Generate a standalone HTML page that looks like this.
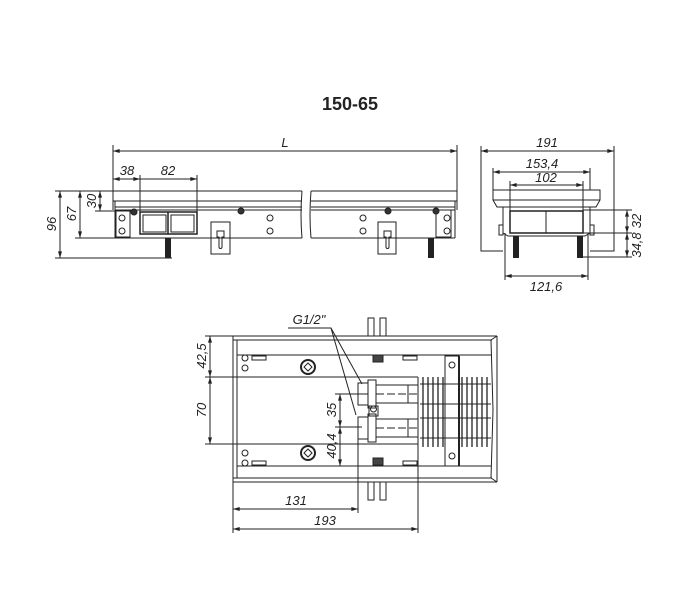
<!DOCTYPE html>
<html><head><meta charset="utf-8"><style>
html,body{margin:0;padding:0;background:#fff;width:700px;height:600px;overflow:hidden}
svg{display:block}
text{font-family:"Liberation Sans",sans-serif;fill:#222}
.d{font-style:italic;font-size:13px}
</style></head><body>
<svg width="700" height="600" viewBox="0 0 700 600" xmlns="http://www.w3.org/2000/svg">
<defs>
<marker id="a" viewBox="0 0 10 6" refX="10" refY="3" markerWidth="8" markerHeight="4" orient="auto-start-reverse"><path d="M0,0L10,3L0,6z" fill="#222"/></marker>
</defs>
<text x="350" y="110" text-anchor="middle" font-size="18" font-weight="bold" style="font-family:'Liberation Sans',sans-serif">150-65</text>

<g stroke="#222" fill="none" stroke-width="1">
<line x1="113" y1="151" x2="457" y2="151" marker-start="url(#a)" marker-end="url(#a)"/>
<line x1="113" y1="145" x2="113" y2="210"/><line x1="457" y1="145" x2="457" y2="210"/>
<line x1="113" y1="179" x2="197" y2="179" marker-start="url(#a)" marker-end="url(#a)"/>
<line x1="140" y1="175" x2="140" y2="212"/><line x1="197" y1="175" x2="197" y2="212"/>
<line x1="126" y1="179" x2="140" y2="179" marker-end="url(#a)"/>
<path d="M113,191H302M311,191H457M113,201H302M311,201H457M115,207H302M311,207H455M115,210H302M311,210H455M115,238H302M311,238H455"/>
<path d="M302,191Q300,215 302,238M311,191Q309,215 311,238"/>
<line x1="455" y1="201" x2="455" y2="238"/><line x1="115" y1="201" x2="115" y2="238"/>
<rect x="116" y="210" width="14" height="27"/><rect x="436" y="210" width="15" height="27"/>
<rect x="140" y="212" width="57" height="22" stroke-width="1.5"/><line x1="168" y1="212" x2="168" y2="234" stroke-width="1.5"/>
<rect x="143" y="215" width="23" height="17"/><rect x="171" y="215" width="23" height="17"/>
<rect x="211" y="222" width="19" height="32"/><rect x="378" y="222" width="18" height="32"/>
<path d="M217,231h7v6h-2v10a1.5,1.5 0 0 1 -3,0v-10h-2z"/><path d="M384,231h7v6h-2v10a1.5,1.5 0 0 1 -3,0v-10h-2z"/>
<line x1="100" y1="191" x2="100" y2="211" marker-start="url(#a)" marker-end="url(#a)"/>
<line x1="80" y1="191" x2="80" y2="238" marker-start="url(#a)" marker-end="url(#a)"/>
<line x1="60" y1="191" x2="60" y2="258" marker-start="url(#a)" marker-end="url(#a)"/>
<path d="M55,191H113M95,211H134M75,238H115M55,258H172"/>

<line x1="481" y1="151" x2="614" y2="151" marker-start="url(#a)" marker-end="url(#a)"/>
<path d="M481,146V251H503M614,146V251H590"/>
<line x1="493" y1="172" x2="590" y2="172" marker-start="url(#a)" marker-end="url(#a)"/>
<path d="M493,168V190M590,168V190"/>
<line x1="510" y1="185" x2="583" y2="185" marker-start="url(#a)" marker-end="url(#a)"/>
<path d="M510,181V211M583,181V211"/>
<path d="M493,190H600V200L596,207H497L493,200Z"/><line x1="493" y1="200" x2="600" y2="200"/>
<path d="M503,207V233L508,236H585L590,233V207"/>
<rect x="510" y="211" width="73" height="22" stroke-width="1.5"/><line x1="546" y1="211" x2="546" y2="233"/>
<rect x="499" y="225" width="4" height="10"/><rect x="590" y="225" width="4" height="10"/>
<line x1="505" y1="276" x2="588" y2="276" marker-start="url(#a)" marker-end="url(#a)"/>
<path d="M505,233V280M588,233V280"/>
<line x1="627" y1="210" x2="627" y2="233" marker-start="url(#a)" marker-end="url(#a)"/>
<line x1="627" y1="233" x2="627" y2="257" marker-start="url(#a)" marker-end="url(#a)"/>
<path d="M583,210H632M583,233H632M582,257H632"/>

<path d="M233,336H497M233,340H492M233,482H497M233,478H492M233,336V482M237,340V478"/>
<path d="M497,336L491,340M491,340L493,410L491,478M497,482L491,478M497,336V482"/>
<path d="M237,355H491M237,466H491M237,377H418M237,444H418M418,377V444"/>
<line x1="210" y1="336" x2="210" y2="377" marker-start="url(#a)" marker-end="url(#a)"/>
<line x1="210" y1="377" x2="210" y2="444" marker-start="url(#a)" marker-end="url(#a)"/>
<path d="M205,336H233M205,377H237M205,444H237"/>
<line x1="340" y1="394" x2="340" y2="427" marker-start="url(#a)" marker-end="url(#a)"/>
<line x1="340" y1="427" x2="340" y2="466" marker-start="url(#a)" marker-end="url(#a)"/>
<path d="M335,394H368M335,427H362M335,466H370"/>
<line x1="233" y1="509" x2="358" y2="509" marker-start="url(#a)" marker-end="url(#a)"/>
<line x1="233" y1="529" x2="418" y2="529" marker-start="url(#a)" marker-end="url(#a)"/>
<path d="M233,482V533M358,420V513M418,444V533"/>
<path d="M368,336V318H374V336M380,336V318H386V336M368,482V500H374V482M380,482V500H386V482"/>
<rect x="252" y="356" width="14" height="4"/><rect x="403" y="356" width="14" height="4"/>
<rect x="252" y="461" width="14" height="4"/><rect x="403" y="461" width="14" height="4"/>
<circle cx="245" cy="358" r="3"/><circle cx="245" cy="368" r="3"/><circle cx="245" cy="453" r="3"/><circle cx="245" cy="463" r="3"/>
<circle cx="308" cy="367" r="7" stroke-width="2"/><path d="M308,363l4,4l-4,4l-4,-4z"/>
<circle cx="308" cy="453" r="7" stroke-width="2"/><path d="M308,449l4,4l-4,4l-4,-4z"/>
<rect x="373" y="355" width="10" height="7" fill="#444"/><rect x="373" y="458" width="10" height="7" fill="#444"/>
<rect x="358" y="383" width="10" height="22"/><rect x="368" y="380" width="8" height="28"/><path d="M376,385H408V403H376M408,385H418V403H408"/>
<line x1="376" y1="394" x2="418" y2="394" stroke-dasharray="8,3"/>
<rect x="358" y="417" width="10" height="22"/><rect x="368" y="414" width="8" height="28"/><path d="M376,419H408V437H376M408,419H418V437H408"/>
<line x1="376" y1="428" x2="418" y2="428" stroke-dasharray="8,3"/>
<rect x="369" y="406" width="9" height="10"/><circle cx="373.5" cy="409" r="3"/>
<path d="M420,384H491M420,404H491M420,418H491M420,438H491"/>
<path d="M423,377V447M428,377V447M433,377V447M438,377V447M443,377V447M462,377V447M467,377V447M472,377V447M477,377V447M482,377V447M487,377V447" stroke-width="1.3"/>
<rect x="445" y="356" width="14" height="110"/><circle cx="452" cy="365" r="3"/><circle cx="452" cy="456" r="3"/>
<line x1="459" y1="356" x2="459" y2="466" stroke-width="2"/>
<path d="M288,328H331L362,384M331,328L356,415"/>
</g>
<g fill="#222">
<rect x="165" y="238" width="6" height="20"/><rect x="428" y="238" width="6" height="20"/>
<rect x="513" y="236" width="6" height="22"/><rect x="577" y="236" width="6" height="22"/>
</g>
<g fill="#fff" stroke="#222">
<circle cx="134" cy="212" r="3" fill="#333"/><circle cx="241" cy="211" r="3" fill="#333"/><circle cx="388" cy="211" r="3" fill="#333"/><circle cx="436" cy="211" r="3" fill="#333"/>
<circle cx="122" cy="218" r="3"/><circle cx="122" cy="231" r="3"/><circle cx="270" cy="218" r="3"/><circle cx="270" cy="231" r="3"/>
<circle cx="363" cy="218" r="3"/><circle cx="363" cy="231" r="3"/><circle cx="447" cy="218" r="3"/><circle cx="447" cy="231" r="3"/>
</g>
<text class="d" x="285" y="147" text-anchor="middle">L</text>
<text class="d" x="127" y="175" text-anchor="middle">38</text>
<text class="d" x="168" y="175" text-anchor="middle">82</text>
<text class="d" transform="translate(96,201) rotate(-90)" text-anchor="middle">30</text>
<text class="d" transform="translate(76,214) rotate(-90)" text-anchor="middle">67</text>
<text class="d" transform="translate(56,224) rotate(-90)" text-anchor="middle">96</text>
<text class="d" x="547" y="147" text-anchor="middle">191</text>
<text class="d" x="542" y="168" text-anchor="middle">153,4</text>
<text class="d" x="546" y="182" text-anchor="middle">102</text>
<text class="d" x="546" y="291" text-anchor="middle">121,6</text>
<text class="d" transform="translate(641,221) rotate(-90)" text-anchor="middle">32</text>
<text class="d" transform="translate(641,245) rotate(-90)" text-anchor="middle">34,8</text>
<text class="d" x="309" y="324" text-anchor="middle">G1/2"</text>
<text class="d" transform="translate(206,356) rotate(-90)" text-anchor="middle">42,5</text>
<text class="d" transform="translate(206,410) rotate(-90)" text-anchor="middle">70</text>
<text class="d" transform="translate(336,410) rotate(-90)" text-anchor="middle">35</text>
<text class="d" transform="translate(336,446) rotate(-90)" text-anchor="middle">40,4</text>
<text class="d" x="296" y="505" text-anchor="middle">131</text>
<text class="d" x="325" y="525" text-anchor="middle">193</text>
</svg>
</body></html>
